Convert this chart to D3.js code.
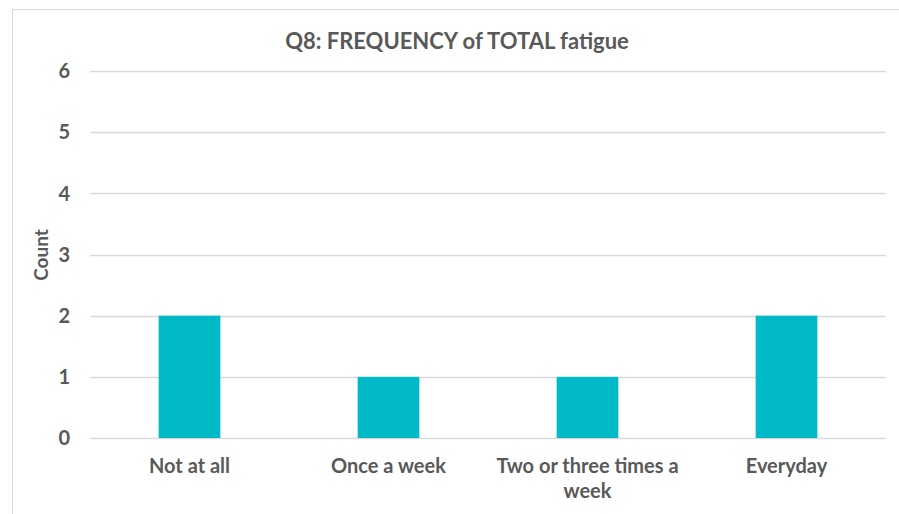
<!DOCTYPE html>
<html><head><meta charset="utf-8">
<script src="https://cdn.jsdelivr.net/npm/d3@7"></script>
<style>body{margin:0;background:#fff;}svg{display:block;}</style>
</head><body>
<svg id="c" width="899" height="514"></svg>
<script>
const categories = ["Not at all", "Once a week", "Two or three times a week", "Everyday"];
const counts = [2, 1, 1, 2];
const yTicks = [0, 1, 2, 3, 4, 5, 6];
const titleText = "Q8: FREQUENCY of TOTAL fatigue";
const yTitle = "Count";

const svg = d3.select("#c");
const W = 899, H = 514;
const m = {left: 90, right: 13, top: 71, bottom: 76};
const font = "Lato, 'Open Sans', sans-serif";
const gray = "#595959";

svg.append("rect").attr("x", 12.5).attr("y", 9.5).attr("width", 900).attr("height", 520)
  .attr("fill", "#fff").attr("stroke", "#d9d9d9").attr("stroke-width", 1);

const x = d3.scaleBand().domain(categories).range([m.left, W - m.right]).paddingInner(0.69).paddingOuter(0.345);
const y = d3.scaleLinear().domain([0, 6]).range([H - m.bottom, m.top]);

// gridlines
svg.append("g").selectAll("line").data(yTicks).join("line")
  .attr("x1", m.left).attr("x2", W - m.right)
  .attr("y1", d => Math.round(y(d)) + 0.5).attr("y2", d => Math.round(y(d)) + 0.5)
  .attr("stroke", "#d9d9d9").attr("stroke-width", 1.3);

// y tick labels
svg.append("g").selectAll("text").data(yTicks).join("text")
  .attr("x", 70).attr("y", d => y(d)).attr("dy", "0.36em")
  .attr("text-anchor", "end").attr("font-family", font).attr("font-size", 20).attr("font-weight", 700)
  .attr("fill", gray).text(d => d);

// bars
svg.append("g").selectAll("rect").data(counts).join("rect")
  .attr("x", (d, i) => x(categories[i])).attr("width", x.bandwidth())
  .attr("y", d => y(d)).attr("height", d => y(0) - y(d))
  .attr("fill", "#00BAC8");

// x labels with wrapping
const labels = svg.append("g").selectAll("text").data(categories).join("text")
  .attr("x", d => x(d) + x.bandwidth() / 2).attr("y", 473)
  .attr("text-anchor", "middle").attr("font-family", font).attr("font-size", 20).attr("font-weight", 700)
  .attr("fill", gray);
labels.each(function(d) {
  const t = d3.select(this);
  const maxW = 199;
  const words = d.split(" ");
  let line = [], lines = [];
  const tmp = t.append("tspan");
  words.forEach(w => {
    const test = line.concat([w]).join(" ");
    tmp.text(test);
    if (tmp.node().getComputedTextLength() > maxW && line.length) {
      lines.push(line.join(" ")); line = [w];
    } else line.push(w);
  });
  lines.push(line.join(" "));
  tmp.remove();
  lines.forEach((l, i) => {
    t.append("tspan").attr("x", x(d) + x.bandwidth() / 2).attr("dy", i === 0 ? 0 : 25).text(l);
  });
});

// title
svg.append("text").attr("x", 457).attr("y", 49).attr("text-anchor", "middle")
  .attr("font-family", font).attr("font-size", 22).attr("font-weight", 700).attr("fill", gray)
  .text(titleText);

// y title
svg.append("text").attr("transform", "translate(48,255) rotate(-90)").attr("text-anchor", "middle")
  .attr("font-family", font).attr("font-size", 19).attr("font-weight", 700).attr("fill", gray)
  .text(yTitle);
</script>
</body></html>
